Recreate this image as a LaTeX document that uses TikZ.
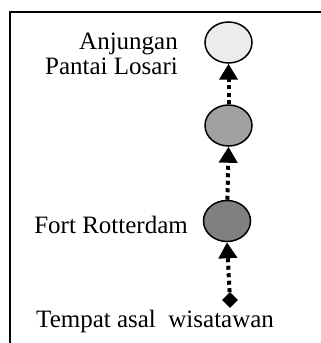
\documentclass[tikz,border=0pt]{standalone}
\usepackage{fontspec}
\setmainfont{Liberation Serif}
\usetikzlibrary{shapes.geometric,arrows.meta}

\definecolor{spotlight}{gray}{0.925}
\definecolor{spotmid}{gray}{0.63}
\definecolor{spotdark}{gray}{0.5}

\begin{document}
\begin{tikzpicture}[x=1pt, y=1pt,
		spot/.style={ellipse, draw, line width=1.5pt, minimum width=47pt, minimum height=41pt, inner sep=0pt},
		label/.style={inner sep=0pt, font=\fontsize{25}{25}\selectfont},
		route/.style={line width=4pt, dash pattern=on 4pt off 3.5pt, -{Triangle[width=18pt, length=16pt]}}]
			\useasboundingbox (0, 0) rectangle (321, 343); %same size as the picture
			\draw [line width=1.3pt] (10, 0) -- (10, 331) -- (321, 331); %frame, only left and top
			
			\node[spot, fill=spotlight] (losari) at (228.5, 300.5) {}; %top spot
			\node[spot, fill=spotmid] (middle) at (228.5, 217.5) {};
			\node[spot, fill=spotdark] (fort) at (227, 122) {};
			\node[diamond, fill, inner sep=0pt, minimum width=16pt, minimum height=16pt] (start) at (230, 43) {}; %start point
			
			\draw [route] (start) -- (fort.south); %dotted lines with arrow tip
			\draw [route] (fort) -- (middle.south);
			\draw [route] (middle) -- (losari.south);
			
			\node[label, anchor=east, align=right] (losaritext) at (178, 289.5) {Anjungan \\ Pantai Losari}; %two lines aligned to the right
			\node[label, anchor=base east] (forttext) at (188, 109) {Fort Rotterdam};
			\node[label, anchor=base west] (starttext) at (36, 16) {Tempat asal\ \ wisatawan};
		\end{tikzpicture}
\end{document}
